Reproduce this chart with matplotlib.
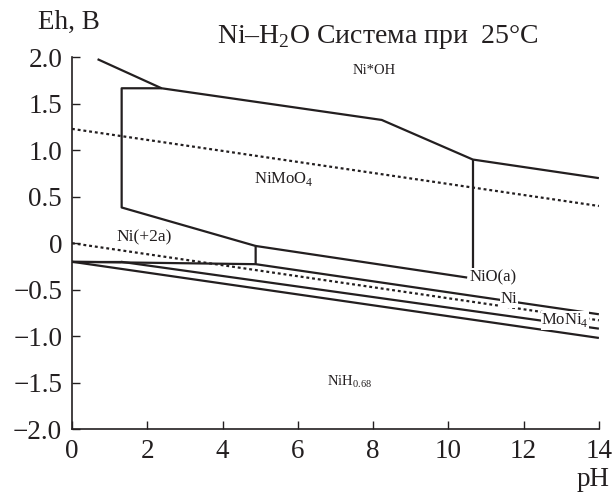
import matplotlib
matplotlib.use("Agg")
import matplotlib.pyplot as plt

plt.rcParams['font.family'] = ['Liberation Serif', 'DejaVu Serif']
plt.rcParams['mathtext.fontset'] = 'custom'
plt.rcParams['mathtext.rm'] = 'Liberation Serif'

# boundaries (pH, Eh)
top_ph = [0.68, 2.38, 8.23, 10.65, 14.0]
top_eh = [1.98, 1.667, 1.326, 0.90, 0.70]

box_ph = [2.38, 1.32, 1.32, 4.88, 4.88]
box_eh = [1.667, 1.667, 0.384, -0.03, -0.226]

vert_ph = [10.65, 10.65]
vert_eh = [0.90, -0.27]

nio_ph = [4.88, 10.5]
nio_eh = [-0.03, -0.37]

ni_ph = [0.0, 4.88, 14.0]
ni_eh = [-0.20, -0.226, -0.765]

moni4_ph = [1.3, 14.0]
moni4_eh = [-0.20, -0.92]
moni4_start_ph = [0.0, 1.3]
moni4_start_eh = [-0.20, -0.20]

nih_ph = [0.0, 14.0]
nih_eh = [-0.20, -1.02]

# water stability lines
o2_ph = [0.0, 14.0]
o2_eh = [1.23, 0.40]
h2_ph = [0.0, 14.0]
h2_eh = [0.0, -0.83]

yticks = [2.0, 1.5, 1.0, 0.5, 0, -0.5, -1.0, -1.5, -2.0]
ylabels = ['2.0', '1.5', '1.0', '0.5', '0', '\u22120.5', '\u22121.0', '\u22121.5', '\u22122.0']
xticks = [0, 2, 4, 6, 8, 10, 12, 14]

fig = plt.figure(figsize=(6.12, 4.92), dpi=100)
ax = fig.add_axes([0.1176, 0.128, 0.861, 0.7555])

lw = 1.6
c = '#231f20'
for xs, ys in [(top_ph, top_eh), (box_ph, box_eh), (vert_ph, vert_eh),
               (nio_ph, nio_eh), (ni_ph, ni_eh), (moni4_ph, moni4_eh),
               (moni4_start_ph, moni4_start_eh), (nih_ph, nih_eh)]:
    ax.plot(xs, ys, color=c, lw=lw, solid_capstyle='butt')

dot = (0, (1.3, 1.3))
ax.plot(o2_ph, o2_eh, color=c, lw=1.6, linestyle=dot)
ax.plot(h2_ph, h2_eh, color=c, lw=1.6, linestyle=dot)

ax.set_xlim(0, 14)
ax.set_ylim(-2, 2)
ax.set_xticks(xticks)
ax.set_xticklabels([str(v) for v in xticks])
ax.set_yticks(yticks)
ax.set_yticklabels(ylabels)
ax.tick_params(direction='in', length=6, width=1, labelsize=19.5, colors=c)
ax.tick_params(axis='y', pad=7)
ax.tick_params(axis='x', pad=7)
for s in ['top', 'right']:
    ax.spines[s].set_visible(False)
for s in ['left', 'bottom']:
    ax.spines[s].set_linewidth(1.2)
    ax.spines[s].set_color(c)

bg = dict(facecolor='white', edgecolor='none', pad=0.5)
ax.text(8.03, 1.86, 'Ni*OH', fontsize=10.5, ha='center', va='center', color=c)
ax.text(5.64, 0.69, 'NiMoO$_4$', fontsize=12, ha='center', va='center', color=c)
ax.text(1.93, 0.065, 'Ni(+2a)', fontsize=12.5, ha='center', va='center', color=c)
ax.text(10.55, -0.37, 'NiO(a)', fontsize=12, ha='left', va='center', color=c, bbox=bg)
ax.text(11.6, -0.60, 'Ni', fontsize=12, ha='center', va='center', color=c, bbox=bg)
ax.text(13.1, -0.83, 'MoNi$_4$', fontsize=12, ha='center', va='center', color=c, bbox=bg)
ax.text(7.36, -1.49, 'NiH$_{0.68}$', fontsize=10.5, ha='center', va='center', color=c)

ax.text(0.58, 1.054, 'Ni\u2013H$_2$O Система при  25°C', transform=ax.transAxes,
        fontsize=20, ha='center', va='center', color=c)
ax.text(-0.065, 1.094, 'Eh, B', transform=ax.transAxes, fontsize=19.5,
        ha='left', va='center', color=c)
ax.text(1.02, -0.135, 'pH', transform=ax.transAxes, fontsize=19.5,
        ha='right', va='center', color=c)

fig.savefig('out.png', dpi=100)
